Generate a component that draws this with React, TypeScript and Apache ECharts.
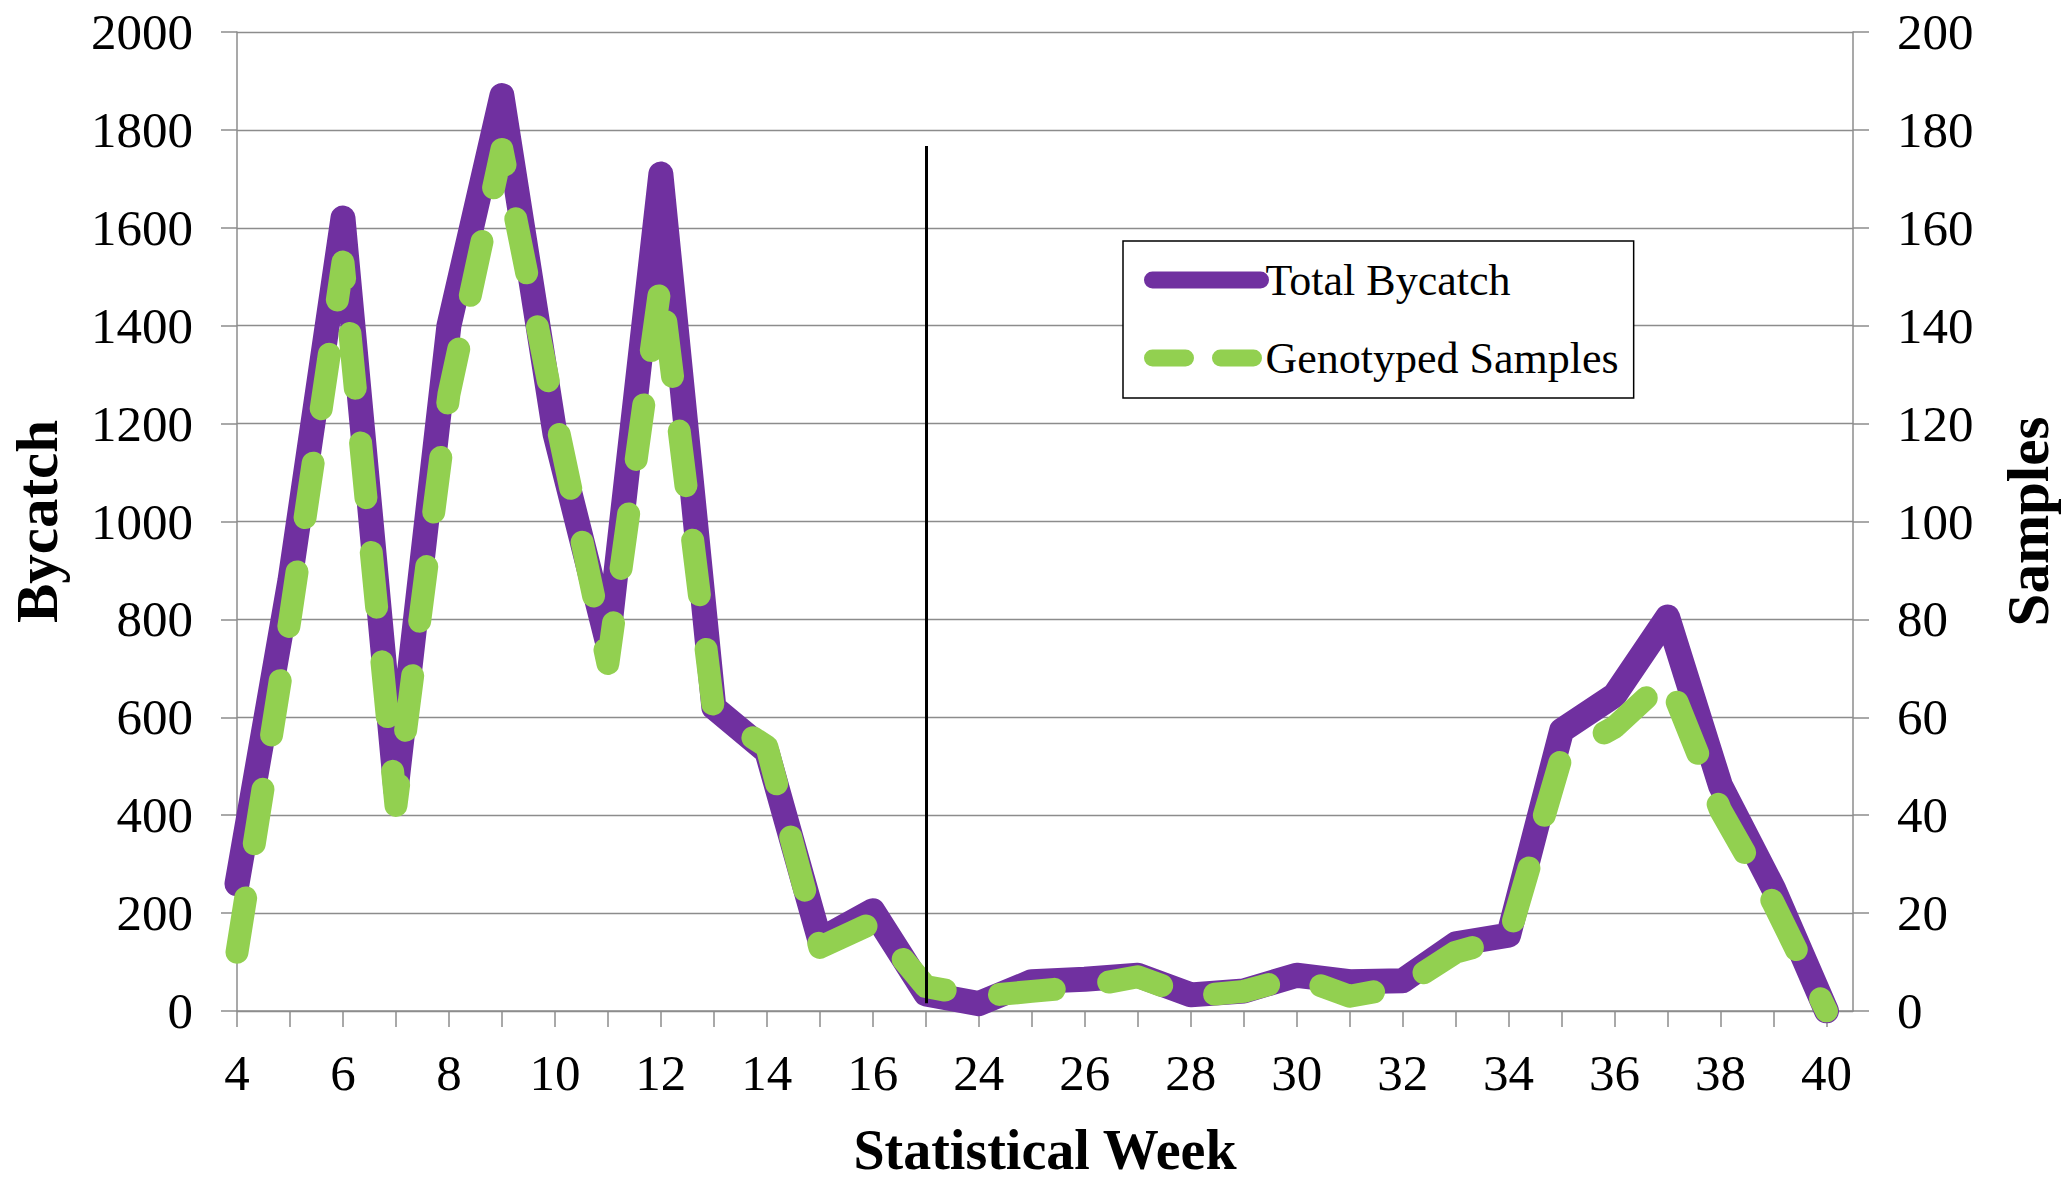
import { useEffect, useRef } from 'react';
import * as echarts from 'echarts';

// Statistical weeks (category positions, evenly spaced)
const weeks = [4, 5, 6, 7, 8, 9, 10, 11, 12, 13, 14, 15, 16, 17, 24, 25, 26, 27, 28, 29, 30, 31, 32, 33, 34, 35, 36, 37, 38, 39, 40];
// Total Bycatch (left axis)
const totalBycatch = [260, 880, 1620, 450, 1400, 1870, 1180, 750, 1710, 620, 530, 145, 205, 35, 15, 60, 65, 73, 33, 41, 73, 60, 62, 137, 155, 573, 645, 805, 460, 250, 0];
// Genotyped Samples (right axis)
const genotypedSamples = [12, 80, 153, 42, 126, 176, 122, 71, 149, 61, 54, 13, 18, 5, 3, 4, 5, 7, 3, 4, 7, 3, 5, 12, 15, 52, 58, 68, 41, 22, 0];
// Labelled week positions (every other week)
const labelledIndices = weeks.map((_, i) => i).filter((i) => i % 2 === 0);
// Separator between the two fishing periods
const separatorIndex = 13;
const separatorSpan = [16, 1767];

const FONT = "'Liberation Serif', 'Times New Roman', serif";
const GRAY = '#8c8c8c';
const PURPLE = '#7030A0';
const GREEN = '#92D050';

export default function App() {
  const ref = useRef<HTMLDivElement>(null);

  useEffect(() => {
    if (!ref.current) return;
    const chart = echarts.init(ref.current, null, { renderer: 'svg' });
    const tickStyle = { color: GRAY, width: 1.5 };
    const plain = (v: number) => String(v);
    chart.setOption({
      animation: false,
      backgroundColor: '#ffffff',
      grid: { left: 237, right: 211, top: 32, bottom: 173, containLabel: false, outerBoundsMode: 'none' },
      legend: {
        orient: 'vertical',
        left: 1123,
        top: 241,
        padding: [17, 15, 18, 21],
        itemWidth: 108,
        itemHeight: 44,
        itemGap: 34,
        borderColor: '#000',
        borderWidth: 1.5,
        backgroundColor: '#fff',
        selectedMode: false,
        textStyle: { fontFamily: FONT, fontSize: 44, color: '#000' },
        data: [
          { name: 'Total Bycatch', itemStyle: { opacity: 0 }, lineStyle: { width: 17, cap: 'round' } },
          { name: 'Genotyped Samples', itemStyle: { opacity: 0 }, lineStyle: { width: 17, type: [33, 35], cap: 'round' } },
        ],
      },
      xAxis: {
        type: 'value',
        min: 0,
        max: weeks.length - 0.5,
        interval: 1,
        name: 'Statistical Week',
        nameLocation: 'middle',
        nameGap: 114,
        nameTextStyle: { fontFamily: FONT, fontSize: 56, lineHeight: 50, fontWeight: 'bold', color: '#000' },
        axisLine: { show: true, onZero: false, lineStyle: tickStyle },
        axisTick: { show: true, length: 16, customValues: weeks.map((_, i) => i), lineStyle: tickStyle },
        axisLabel: {
          customValues: labelledIndices,
          formatter: (v: number) => String(weeks[Math.round(v)]),
          margin: 36,
          fontFamily: FONT,
          fontSize: 51,
          color: '#000',
        },
        splitLine: { show: false },
      },
      yAxis: [
        {
          type: 'value',
          position: 'left',
          min: 0,
          max: 2000,
          interval: 200,
          name: 'Bycatch',
          nameLocation: 'middle',
          nameRotate: 90,
          nameGap: 171,
          nameTextStyle: { fontFamily: FONT, fontSize: 59, fontWeight: 'bold', color: '#000' },
          axisLine: { show: true, lineStyle: tickStyle },
          axisTick: { show: true, length: 16, lineStyle: tickStyle },
          axisLabel: { margin: 44, fontFamily: FONT, fontSize: 51, color: '#000', formatter: plain },
          splitLine: { show: true, lineStyle: { color: GRAY, width: 1.4 } },
        },
        {
          type: 'value',
          position: 'right',
          min: 0,
          max: 200,
          interval: 20,
          name: 'Samples',
          nameLocation: 'middle',
          nameRotate: 90,
          nameGap: 145,
          nameTextStyle: { fontFamily: FONT, fontSize: 59, fontWeight: 'bold', color: '#000' },
          axisLine: { show: true, lineStyle: tickStyle },
          axisTick: { show: true, length: 16, lineStyle: tickStyle },
          axisLabel: { margin: 44, fontFamily: FONT, fontSize: 51, color: '#000', formatter: plain },
          splitLine: { show: false },
        },
      ],
      series: [
        {
          name: 'Total Bycatch',
          type: 'line',
          yAxisIndex: 0,
          data: totalBycatch.map((v, i) => [i, v]),
          symbol: 'none',
          showSymbol: false,
          silent: true,
          z: 2,
          itemStyle: { color: PURPLE },
          lineStyle: { color: PURPLE, width: 25, cap: 'round', join: 'round' },
          emphasis: { disabled: true },
          markLine: {
            silent: true,
            symbol: ['none', 'none'],
            label: { show: false },
            lineStyle: { color: '#000', width: 3, type: 'solid' },
            emphasis: { disabled: true },
            data: [[
              { coord: [separatorIndex, separatorSpan[1]] },
              { coord: [separatorIndex, separatorSpan[0]] },
            ]],
          },
        },
        {
          name: 'Genotyped Samples',
          type: 'line',
          yAxisIndex: 1,
          data: genotypedSamples.map((v, i) => [i, v]),
          symbol: 'none',
          showSymbol: false,
          silent: true,
          z: 3,
          itemStyle: { color: GREEN },
          lineStyle: { color: GREEN, width: 23, type: [55, 55], dashOffset: 0, cap: 'round', join: 'round' },
          emphasis: { disabled: true },
        },
      ],
    });
    return () => chart.dispose();
  }, []);

  return (
    <div
      ref={ref}
      style={{ position: 'absolute', left: 0, top: 0, width: '2064px', height: '1184px' }}
    />
  );
}
